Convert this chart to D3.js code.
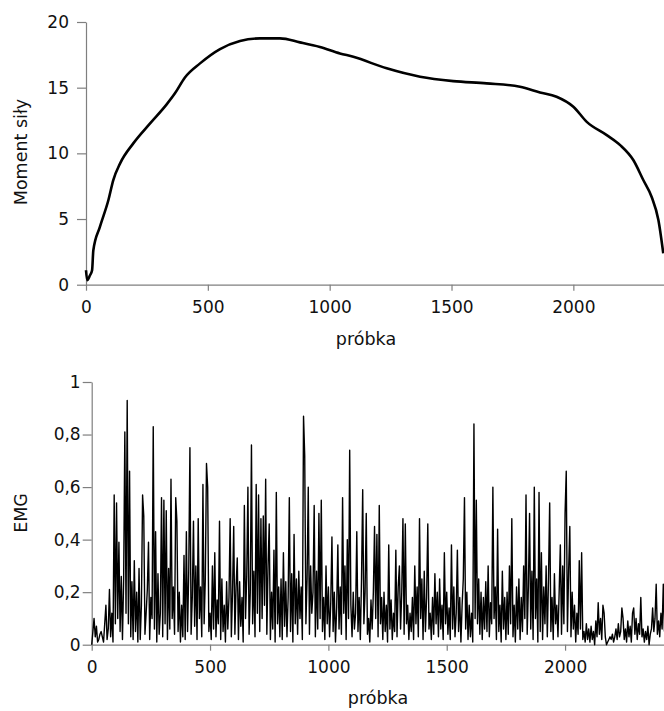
<!DOCTYPE html>
<html>
<head>
<meta charset="utf-8">
<script src="https://cdn.jsdelivr.net/npm/d3@7"></script>
<style>
  body { margin: 0; background: #fff; }
  svg text { font-family: "DejaVu Sans", Verdana, sans-serif; fill: #111; }
</style>
</head>
<body>
<div id="chart"></div>
<script>
// moment sily (top panel)
var momentSample = [0, 5, 16, 25, 30, 57, 92, 112, 140, 194, 263, 331, 365, 406, 468, 550, 632, 714, 796, 878, 960, 1042, 1097, 1234, 1371, 1507, 1644, 1781, 1863, 1931, 2000, 2055, 2137, 2192, 2246, 2287, 2321, 2349, 2369];
var momentValue = [1.1, 0.35, 0.7, 1.1, 2.6, 4.4, 6.45, 7.97, 9.24, 10.76, 12.28, 13.73, 14.57, 15.78, 16.85, 17.94, 18.55, 18.75, 18.75, 18.45, 18.1, 17.61, 17.35, 16.47, 15.83, 15.5, 15.33, 15.07, 14.64, 14.31, 13.55, 12.4, 11.39, 10.63, 9.49, 7.97, 6.7, 4.92, 2.39];

// EMG (bottom panel), one value every 5 samples
var emgStep = 5;
var emgValue = [
  0.00,0.05,0.10,0.03,0.07,0.01,0.02,0.04,0.05,0.03,0.01,0.08,0.15,0.02,0.06,0.21,0.03,0.12,0.01,0.57,
  0.08,0.54,0.10,0.39,0.05,0.26,0.02,0.25,0.81,0.12,0.93,0.08,0.66,0.03,0.24,0.02,0.32,0.05,0.20,0.01,
  0.29,0.02,0.15,0.57,0.49,0.04,0.12,0.21,0.39,0.02,0.18,0.10,0.83,0.06,0.43,0.01,0.27,0.04,0.12,0.56,
  0.03,0.55,0.08,0.51,0.02,0.29,0.06,0.63,0.10,0.22,0.04,0.56,0.47,0.05,0.20,0.01,0.15,0.03,0.34,0.02,
  0.43,0.05,0.28,0.75,0.04,0.18,0.47,0.07,0.30,0.02,0.48,0.10,0.22,0.03,0.61,0.08,0.25,0.69,0.60,0.05,
  0.12,0.02,0.30,0.06,0.35,0.03,0.17,0.08,0.47,0.02,0.25,0.05,0.15,0.01,0.24,0.06,0.18,0.48,0.03,0.20,
  0.45,0.04,0.22,0.33,0.02,0.24,0.07,0.18,0.01,0.53,0.10,0.26,0.60,0.04,0.20,0.76,0.08,0.28,0.03,0.61,
  0.12,0.57,0.05,0.48,0.10,0.49,0.15,0.63,0.04,0.30,0.46,0.02,0.20,0.06,0.36,0.01,0.58,0.08,0.22,0.03,
  0.25,0.02,0.35,0.07,0.24,0.03,0.18,0.56,0.05,0.27,0.01,0.42,0.08,0.25,0.04,0.28,0.10,0.22,0.02,0.87,
  0.72,0.08,0.25,0.60,0.04,0.30,0.12,0.20,0.53,0.03,0.28,0.06,0.50,0.10,0.55,0.05,0.18,0.02,0.30,0.08,
  0.22,0.03,0.16,0.41,0.05,0.20,0.01,0.14,0.38,0.06,0.22,0.04,0.56,0.12,0.30,0.02,0.40,0.10,0.74,0.15,
  0.03,0.20,0.06,0.12,0.43,0.05,0.18,0.02,0.25,0.59,0.08,0.20,0.50,0.04,0.10,0.01,0.17,0.06,0.20,0.45,
  0.10,0.42,0.03,0.53,0.08,0.18,0.02,0.20,0.05,0.15,0.01,0.38,0.06,0.17,0.02,0.12,0.05,0.36,0.03,0.22,
  0.30,0.06,0.20,0.48,0.04,0.46,0.08,0.15,0.02,0.12,0.05,0.18,0.02,0.30,0.08,0.22,0.03,0.48,0.10,0.25,
  0.02,0.28,0.05,0.18,0.46,0.06,0.12,0.02,0.18,0.04,0.27,0.08,0.20,0.03,0.25,0.06,0.15,0.02,0.35,0.08,
  0.20,0.04,0.14,0.02,0.38,0.06,0.22,0.03,0.12,0.36,0.05,0.18,0.01,0.15,0.25,0.56,0.06,0.20,0.02,0.15,
  0.03,0.12,0.01,0.84,0.10,0.55,0.08,0.25,0.04,0.20,0.02,0.18,0.06,0.24,0.05,0.30,0.03,0.16,0.08,0.60,
  0.10,0.22,0.02,0.44,0.05,0.15,0.01,0.28,0.06,0.18,0.02,0.20,0.04,0.30,0.08,0.48,0.03,0.15,0.01,0.22,
  0.06,0.25,0.02,0.18,0.05,0.30,0.10,0.57,0.04,0.22,0.50,0.06,0.28,0.02,0.60,0.10,0.25,0.01,0.58,0.05,
  0.35,0.02,0.22,0.08,0.30,0.03,0.25,0.54,0.05,0.18,0.02,0.27,0.08,0.15,0.03,0.20,0.38,0.04,0.30,0.08,
  0.50,0.66,0.05,0.28,0.45,0.03,0.20,0.06,0.15,0.01,0.12,0.04,0.32,0.06,0.35,0.02,0.05,0.01,0.08,0.02,
  0.06,0.01,0.07,0.02,0.05,0.00,0.09,0.03,0.16,0.04,0.10,0.02,0.15,0.12,0.03,0.00,0.01,0.02,0.03,0.02,
  0.04,0.01,0.03,0.06,0.02,0.08,0.03,0.05,0.14,0.10,0.02,0.06,0.01,0.09,0.03,0.07,0.01,0.12,0.14,0.04,
  0.10,0.02,0.08,0.04,0.18,0.03,0.06,0.01,0.05,0.02,0.07,0.00,0.04,0.06,0.14,0.05,0.10,0.23,0.04,0.09,
  0.03,0.12,0.06,0.23,0.05
];

var momentTicksX = [0, 500, 1000, 1500, 2000];
var momentTicksY = [0, 5, 10, 15, 20];
var emgTicksX = [0, 500, 1000, 1500, 2000];
var emgTicksY = [0, 0.2, 0.4, 0.6, 0.8, 1];

var width = 664, height = 711;
var axisColor = "#7f7f7f";

var plFormat = d3.formatLocale({ decimal: ",", thousands: " ", grouping: [3], currency: ["", " zł"] }).format("~g");

var svg = d3.select("#chart").append("svg")
    .attr("width", width)
    .attr("height", height);

//draw one panel
function drawPanel(opt) {
    var x = d3.scaleLinear().domain(opt.xDomain).range([opt.left, width]);
    var y = d3.scaleLinear().domain(opt.yDomain).range([opt.bottom, opt.top]);

    var g = svg.append("g");

    // x axis
    var xAxis = g.append("g")
        .attr("transform", "translate(0," + opt.bottom + ")")
        .call(d3.axisBottom(x).tickValues(opt.xTicks).tickSize(6).tickPadding(10).tickSizeOuter(0).tickFormat(d3.format("d")));

    // y axis
    var yAxis = g.append("g")
        .attr("transform", "translate(" + opt.left + ",0)")
        .call(d3.axisLeft(y).tickValues(opt.yTicks).tickSize(9).tickPadding(opt.yPad).tickSizeOuter(0).tickFormat(opt.yFormat));

    [xAxis, yAxis].forEach(function (a) {
        a.select(".domain").attr("stroke", axisColor).attr("stroke-width", 1.2);
        a.selectAll(".tick line").attr("stroke", axisColor).attr("stroke-width", 1.2);
        a.selectAll(".tick text")
            .attr("fill", "#111")
            .style("font-size", "17px")
            .style("font-family", "DejaVu Sans, sans-serif");
    });

    // line
    var line = d3.line()
        .x(function (d) { return x(d[0]); })
        .y(function (d) { return y(d[1]); });
    if (opt.curve) line.curve(opt.curve);

    g.append("path")
        .datum(opt.data)
        .attr("fill", "none")
        .attr("stroke", "#000")
        .attr("stroke-width", opt.lineWidth)
        .attr("stroke-linejoin", "round")
        .attr("d", line);

    // titles
    g.append("text")
        .attr("x", opt.xTitleX)
        .attr("y", opt.xTitleY)
        .attr("text-anchor", "middle")
        .style("font-size", "17.5px")
        .text("próbka");

    g.append("text")
        .attr("transform", "translate(" + opt.yTitleX + "," + opt.yTitleY + ") rotate(-90)")
        .attr("text-anchor", "middle")
        .style("font-size", "17.5px")
        .text(opt.yTitle);
}

var momentData = momentSample.map(function (s, i) { return [s, momentValue[i]]; });
var emgData = emgValue.map(function (v, i) { return [i * emgStep, v]; });

drawPanel({
    data: momentData, xDomain: [0, 2372], yDomain: [0, 20],
    left: 86, top: 22, bottom: 284.7,
    xTicks: momentTicksX, yTicks: momentTicksY, yFormat: d3.format("d"), yPad: 8,
    lineWidth: 2.6, curve: d3.curveMonotoneX,
    xTitleX: 366, xTitleY: 345, yTitleX: 27, yTitleY: 152, yTitle: "Moment siły"
});

drawPanel({
    data: emgData, xDomain: [0, 2418], yDomain: [0, 1],
    left: 91.7, top: 382, bottom: 644.7,
    xTicks: emgTicksX, yTicks: emgTicksY, yFormat: plFormat, yPad: 2,
    lineWidth: 1.4, curve: null,
    xTitleX: 378, xTitleY: 704, yTitleX: 27, yTitleY: 513, yTitle: "EMG"
});
</script>
</body>
</html>
